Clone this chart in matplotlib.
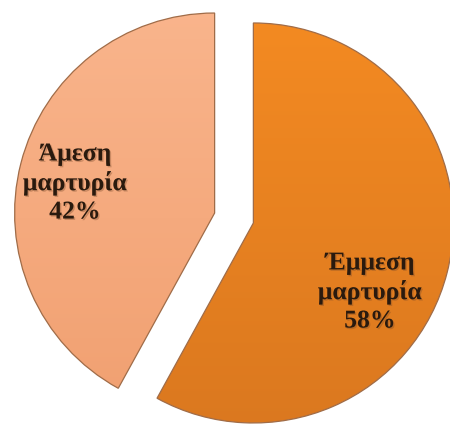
import numpy as np
import matplotlib
matplotlib.use("Agg")
import matplotlib.pyplot as plt
from matplotlib.colors import LinearSegmentedColormap
import matplotlib.patheffects as pe

labels = ["Έμμεση\nμαρτυρία", "Άμεση\nμαρτυρία"]
values = [58, 42]
top_colors = ["#F68C22", "#FAB68E"]
bottom_colors = ["#D9771F", "#F09E6E"]
label_pos = [(0.68, -0.37), (-0.795, 0.175)]

fig = plt.figure(figsize=(4.5, 4.25), dpi=100)
ax = fig.add_axes([0, 0, 1, 1])

wedges, _ = ax.pie(values, startangle=90, counterclock=False,
                   explode=[0.1, 0.1], radius=1.0,
                   wedgeprops=dict(linewidth=0.9, edgecolor="#a06c48"))

# vertical gradient fill inside each wedge, lighter at the top
grad = np.linspace(0, 1, 256).reshape(-1, 1)
for w, c0, c1 in zip(wedges, top_colors, bottom_colors):
    w.set_facecolor("none")
    cmap = LinearSegmentedColormap.from_list("g", [c0, c1])
    im = ax.imshow(grad, cmap=cmap, extent=[-1.3, 1.3, -1.2, 1.2],
                   origin="upper", aspect="auto",
                   zorder=w.get_zorder() - 0.1)
    im.set_clip_path(w)

ax.set_xlim(-1.17, 1.08)
ax.set_ylim(-1.035, 1.09)
ax.set_aspect("equal")
ax.axis("off")

for lab, v, (x, y) in zip(labels, values, label_pos):
    ax.text(x, y, f"{lab}\n{v}%", ha="center", va="center",
            fontsize=18.5, fontweight="bold", family="Liberation Serif",
            color="#2a1a0e", linespacing=1.3,
            path_effects=[pe.withSimplePatchShadow(offset=(1, -1), shadow_rgbFace="#7a4a2a", alpha=0.35)])

fig.savefig("out.png", dpi=100)
